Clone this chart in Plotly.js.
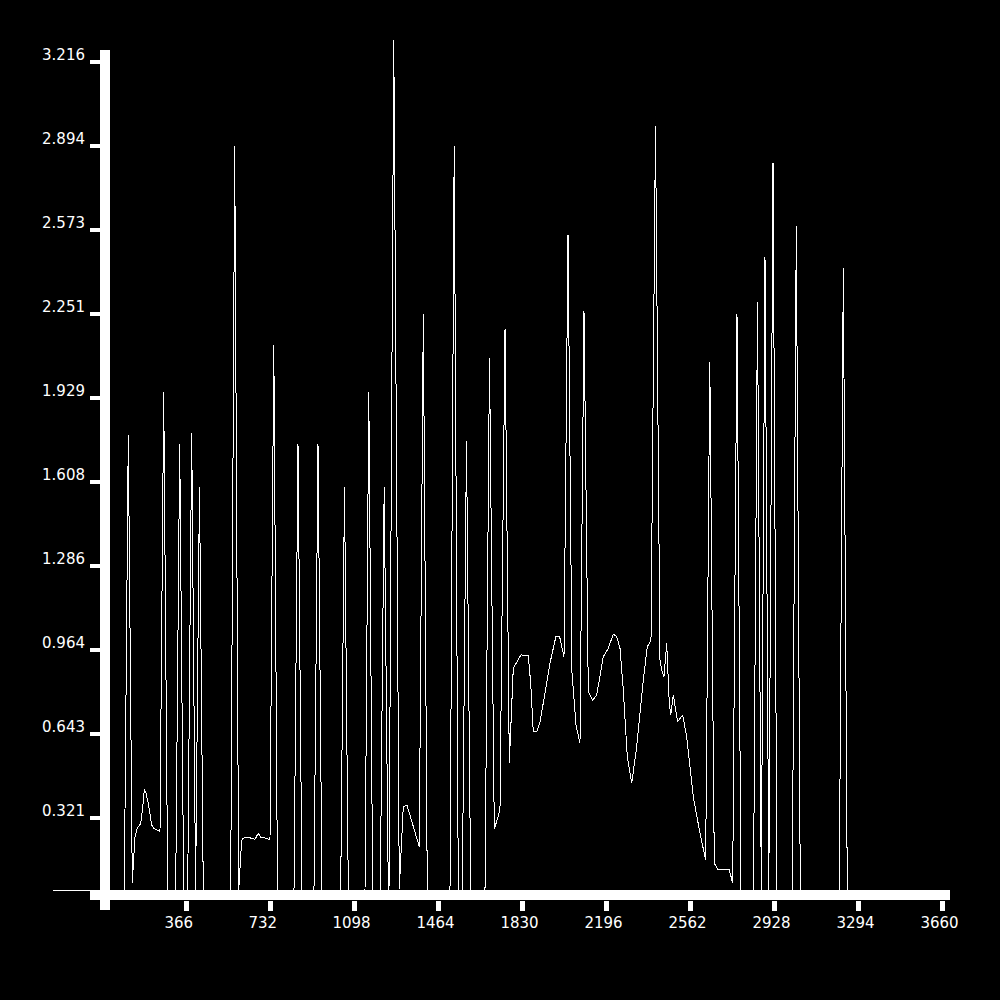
<!DOCTYPE html>
<html><head><meta charset="utf-8">
<script src="https://cdn.plot.ly/plotly-3.0.1.min.js"></script>
<style>
html,body{margin:0;padding:0;background:#000;}
#chart{width:1000px;height:1000px;}
.scatterlayer path.js-line{shape-rendering:crispEdges;}
</style>
</head><body><div id="chart"></div>
<script>
// Polyline vertices (x in axis units, y in axis units)
const xValues = [-215.7, 95.0, 112.4, 129.8, 141.6, 151.6, 166.4, 175.2, 182.1, 189.5,
  199.6, 207.0, 214.4, 221.3, 236.2, 250.5, 266.7, 284.1, 318.9, 336.4,
  353.8, 371.2, 388.7, 405.6, 422.6, 439.2, 558.6, 576.0, 593.4, 599.1,
  606.5, 613.5, 628.3, 650.1, 664.5, 678.8, 689.3, 715.4, 729.8, 746.4,
  762.5, 834.4, 851.8, 869.2, 921.5, 939.0, 956.4, 1037.9, 1054.4, 1071.0,
  1143.8, 1160.3, 1177.3, 1210.4, 1227.4, 1245.3, 1248.3, 1269.2, 1293.2, 1310.6,
  1326.5, 1380.3, 1397.8, 1415.2, 1514.1, 1532.4, 1550.3, 1567.7, 1586.0, 1604.3,
  1666.6, 1686.2, 1707.1, 1731.9, 1753.9, 1772.5, 1789.9, 1823.5, 1855.3, 1865.7,
  1877.0, 1891.9, 1906.2, 1928.0, 1949.8, 1976.0, 1991.2, 2010.8, 2028.3, 2045.7,
  2063.1, 2080.5, 2098.0, 2116.7, 2135.9, 2153.3, 2182.1, 2203.8, 2225.6, 2240.4,
  2254.8, 2269.2, 2286.6, 2305.8, 2327.6, 2342.0, 2356.3, 2373.8, 2389.9, 2409.5,
  2429.1, 2436.5, 2446.5, 2458.3, 2469.6, 2475.7, 2487.1, 2506.2, 2528.0, 2545.4,
  2574.2, 2603.4, 2628.2, 2646.1, 2665.7, 2683.1, 2731.1, 2745.9, 2764.6, 2782.0,
  2836.5, 2853.9, 2870.5, 2886.6, 2903.2, 2921.5, 2938.9, 3005.6, 3023.0, 3040.4,
  3210.4, 3227.8, 3245.2, 3692.7];
const yValues = [0.044, 0.044, 1.788, 0.074, 0.250, 0.282, 0.301, 0.359, 0.431, 0.416,
  0.378, 0.327, 0.295, 0.284, 0.276, 0.269, 1.953, 0.044, 0.044, 1.753,
  0.044, 0.044, 1.796, 0.044, 1.589, 0.044, 0.044, 2.894, 0.044, 0.123,
  0.237, 0.244, 0.248, 0.244, 0.240, 0.263, 0.248, 0.244, 0.237, 2.132,
  0.044, 0.044, 1.753, 0.044, 0.044, 1.753, 0.044, 0.044, 1.589, 0.044,
  0.044, 1.953, 0.044, 0.044, 1.589, 0.044, 0.044, 3.300, 0.050, 0.365,
  0.371, 0.212, 2.251, 0.044, 0.044, 2.894, 0.044, 0.044, 1.765, 0.044,
  0.044, 2.083, 0.278, 0.352, 2.194, 0.531, 0.895, 0.946, 0.942, 0.838,
  0.652, 0.651, 0.690, 0.799, 0.914, 1.018, 1.018, 0.939, 2.554, 0.877,
  0.678, 0.608, 2.263, 0.805, 0.773, 0.792, 0.939, 0.971, 1.026, 1.016,
  0.971, 0.812, 0.556, 0.454, 0.595, 0.722, 0.850, 0.977, 1.003, 2.971,
  0.926, 0.888, 0.863, 0.990, 0.761, 0.716, 0.792, 0.690, 0.716, 0.633,
  0.403, 0.263, 0.161, 2.067, 0.148, 0.123, 0.123, 0.072, 2.251, 0.044,
  0.044, 2.297, 0.044, 2.469, 0.044, 2.829, 0.044, 0.044, 2.588, 0.044,
  0.044, 2.427, 0.044, 0.044];

const xTickValues = [366, 732, 1098, 1464, 1830, 2196, 2562, 2928, 3294, 3660];
const xTickLabels = ['366', '732', '1098', '1464', '1830', '2196', '2562', '2928', '3294', '3660'];
const yTickValues = [0.321, 0.643, 0.964, 1.286, 1.608, 1.929, 2.251, 2.573, 2.894, 3.216];
const yTickLabels = ['0.321', '0.643', '0.964', '1.286', '1.608', '1.929', '2.251', '2.573', '2.894', '3.216'];

// layout geometry (pixels)
const W = 1000, H = 1000;
const M = {l: 40, r: 40, t: 20, b: 40};
const plotW = W - M.l - M.r, plotH = H - M.t - M.b;
const px = x => (x - M.l) / plotW;          // pixel x -> paper
const py = y => (H - M.b - y) / plotH;      // pixel y -> paper

// pad 3-digit labels to 4 figures so all labels share a left edge
const xText = xTickLabels.map(s => s.length < 4 ? s + '\u2007' : s);

const tickFont = {family: 'DejaVu Sans', size: 15, color: '#ffffff'};

const trace = {
  type: 'scatter', mode: 'lines',
  x: xValues, y: yValues,
  line: {color: '#ffffff', width: 1},
  hoverinfo: 'skip', showlegend: false
};

const white = '#ffffff';
const layout = {
  width: W, height: H,
  margin: M,
  paper_bgcolor: '#000000', plot_bgcolor: '#000000',
  showlegend: false,
  xaxis: {
    range: [-272.3, 3736.3],
    anchor: 'free', position: py(900),
    showline: false, showgrid: false, zeroline: false,
    ticks: 'outside', ticklen: 10, tickwidth: 5, tickcolor: white,
    tickmode: 'array', tickvals: xTickValues, ticktext: xText,
    tickfont: tickFont, ticklabelshift: -3, ticklabelstandoff: -1
  },
  yaxis: {
    range: [-0.2221, 3.3767],
    anchor: 'free', position: px(100),
    showline: false, showgrid: false, zeroline: false,
    ticks: 'outside', ticklen: 10, tickwidth: 4, tickcolor: white,
    tickmode: 'array', tickvals: yTickValues, ticktext: yTickLabels,
    tickfont: tickFont, ticklabelshift: -7, ticklabelstandoff: 2
  },
  shapes: [
    {type: 'rect', xref: 'paper', yref: 'paper', layer: 'above',
     x0: px(90), x1: px(950), y0: py(900), y1: py(890),
     fillcolor: white, line: {width: 0}},
    {type: 'rect', xref: 'paper', yref: 'paper', layer: 'above',
     x0: px(100), x1: px(110), y0: py(910), y1: py(50),
     fillcolor: white, line: {width: 0}}
  ]
};

Plotly.newPlot('chart', [trace], layout, {staticPlot: true, displayModeBar: false});
</script>
</body></html>
